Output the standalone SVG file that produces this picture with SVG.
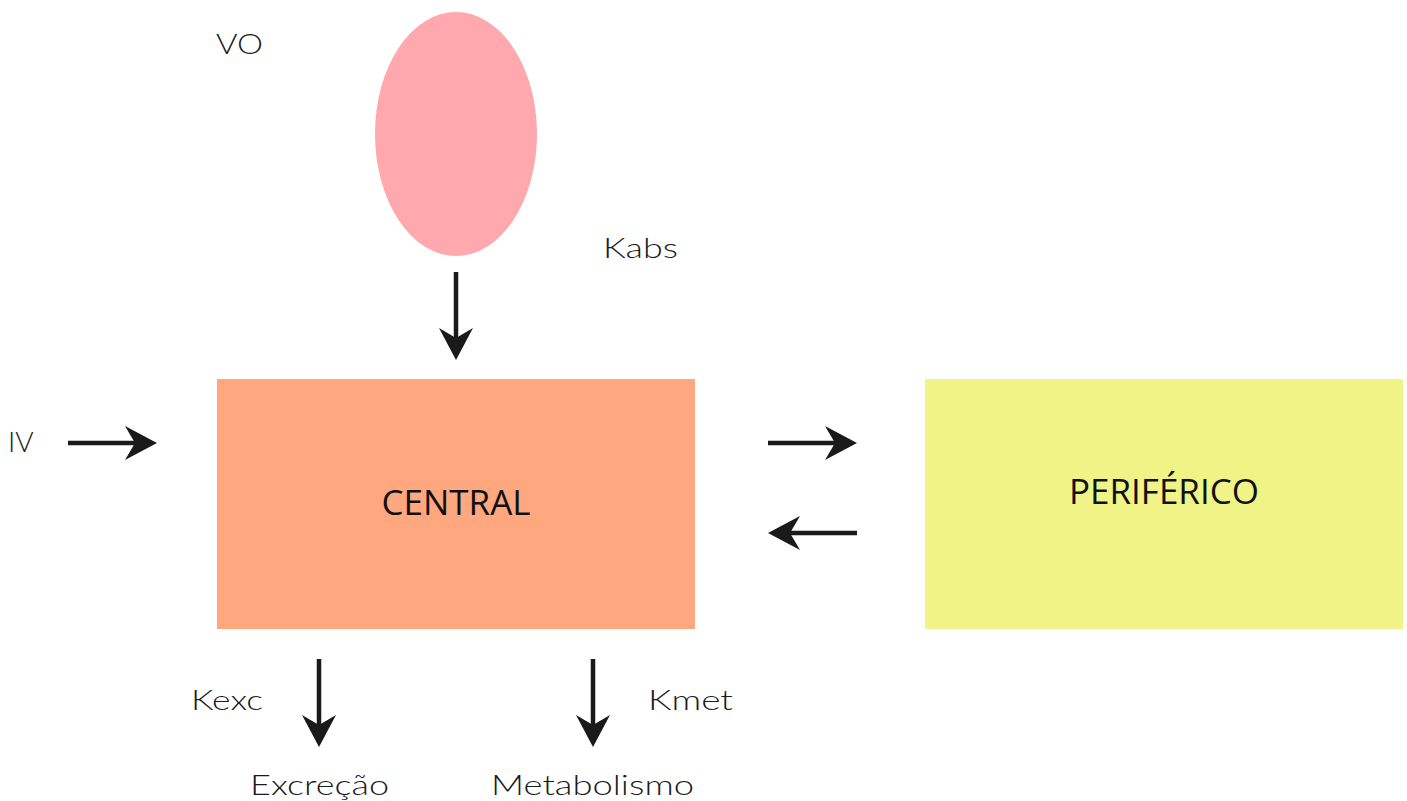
<svg xmlns="http://www.w3.org/2000/svg" width="1407" height="801" viewBox="0 0 1407 801">
  <style>
    .lbl { font-family: Lato, "Open Sans", "Liberation Sans", sans-serif; font-weight: 300; font-size: 28px; fill: #1a1a1a; }
    .box { font-family: "Open Sans", "Liberation Sans", sans-serif; font-size: 35px; fill: #111111; }
    .flow { stroke: #1a1a1a; stroke-width: 4.5; fill: none; marker-end: url(#head); }
  </style>
  <defs>
    <!-- swept-back arrowhead; the line stops inside the head, 12px short of the tip -->
    <marker id="head" markerUnits="userSpaceOnUse" markerWidth="44" markerHeight="40" viewBox="-22 -20 44 40" refX="0" refY="0" orient="auto">
      <path d="M12,0 L-20,-17 L-10,0 L-20,17 Z" fill="#1a1a1a"/>
    </marker>
  </defs>

  <g id="vo">
    <ellipse cx="456" cy="134" rx="81" ry="122" fill="#ffa8ad"/>
    <text class="lbl" x="216" y="54" textLength="47" lengthAdjust="spacingAndGlyphs">VO</text>
  </g>

  <g id="central">
    <rect x="217" y="379" width="478" height="250" fill="#ffa77f"/>
    <text class="box" x="456" y="515" text-anchor="middle">CENTRAL</text>
  </g>

  <g id="periferico">
    <rect x="925" y="379" width="478" height="250" fill="#f0f386"/>
    <text class="box" x="1164" y="504" text-anchor="middle">PERIFÉRICO</text>
  </g>

  <g id="iv">
    <text class="lbl" x="8" y="452">IV</text>
  </g>

  <g id="excrecao">
    <text class="lbl" x="250" y="795" textLength="139" lengthAdjust="spacingAndGlyphs">Excreção</text>
  </g>

  <g id="metabolismo">
    <text class="lbl" x="491" y="795" textLength="203" lengthAdjust="spacingAndGlyphs">Metabolismo</text>
  </g>

  <g id="connectors">
    <line class="flow" x1="456" y1="272" x2="456" y2="348"/>
    <line class="flow" x1="68" y1="443" x2="145" y2="443"/>
    <line class="flow" x1="768" y1="443" x2="845" y2="443"/>
    <line class="flow" x1="857" y1="533" x2="780" y2="533"/>
    <line class="flow" x1="319" y1="659" x2="319" y2="735"/>
    <line class="flow" x1="593" y1="659" x2="593" y2="735"/>
    <text class="lbl" x="603" y="258" textLength="75" lengthAdjust="spacingAndGlyphs">Kabs</text>
    <text class="lbl" x="191" y="710" textLength="72" lengthAdjust="spacingAndGlyphs">Kexc</text>
    <text class="lbl" x="648" y="710" textLength="85" lengthAdjust="spacingAndGlyphs">Kmet</text>
  </g>
</svg>
